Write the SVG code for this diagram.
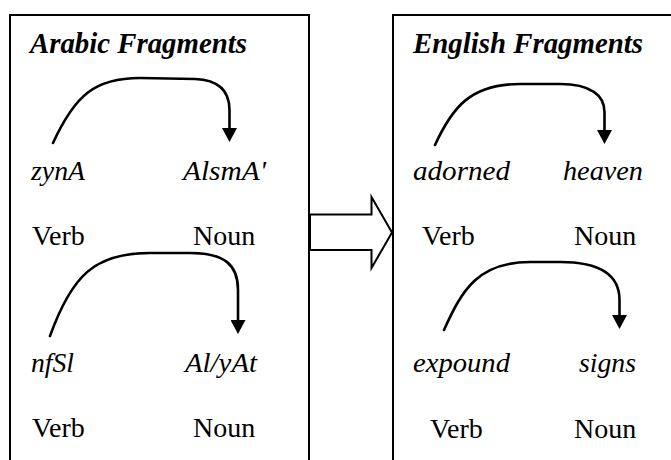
<svg xmlns="http://www.w3.org/2000/svg" width="671" height="460" viewBox="0 0 671 460">
  <style>
    .panel { fill: #ffffff; stroke: #000000; stroke-width: 2; }
    .title { font-family: 'Times New Roman', 'Liberation Serif', serif; font-size: 29px; font-weight: bold; font-style: italic; fill: #000000; }
    .word { font-family: 'Times New Roman', 'Liberation Serif', serif; font-size: 28px; font-style: italic; fill: #000000; }
    .pos { font-family: 'Liberation Serif', 'Times New Roman', serif; font-size: 28px; fill: #000000; }
    .link { fill: none; stroke: #000000; stroke-width: 2.6; stroke-linecap: round; marker-end: url(#head); }
    .block { fill: #ffffff; stroke: #000000; stroke-width: 2; stroke-linejoin: miter; }
  </style>
  <defs>
    <marker id="head" viewBox="0 0 14 15" refX="0" refY="7.5" markerWidth="14" markerHeight="15" markerUnits="userSpaceOnUse" orient="auto">
      <path d="M0,0 L14,7.5 L0,15 Z" fill="#000000"/>
    </marker>
  </defs>

  <rect width="671" height="460" fill="#ffffff"/>

  <!-- Arabic side -->
  <g id="arabic-fragments">
    <rect class="panel" x="10" y="15" width="299" height="460"/>
    <text class="title" x="30" y="53" textLength="217" lengthAdjust="spacingAndGlyphs">Arabic Fragments</text>
    <text class="word" x="31" y="180" textLength="54" lengthAdjust="spacingAndGlyphs">zynA</text>
    <text class="word" x="183" y="180" textLength="83" lengthAdjust="spacingAndGlyphs">AlsmA'</text>
    <text class="word" x="31" y="372" textLength="43" lengthAdjust="spacingAndGlyphs">nfSl</text>
    <text class="word" x="185" y="372" textLength="72" lengthAdjust="spacingAndGlyphs">Al/yAt</text>
    <text class="pos" x="32" y="245">Verb</text>
    <text class="pos" x="193" y="245">Noun</text>
    <text class="pos" x="32" y="437">Verb</text>
    <text class="pos" x="193" y="437">Noun</text>
  </g>

  <!-- English side -->
  <g id="english-fragments">
    <rect class="panel" x="393" y="15" width="300" height="460"/>
    <text class="title" x="413" y="53" textLength="230" lengthAdjust="spacingAndGlyphs">English Fragments</text>
    <text class="word" x="413" y="180" textLength="97" lengthAdjust="spacingAndGlyphs">adorned</text>
    <text class="word" x="563" y="180" textLength="80" lengthAdjust="spacingAndGlyphs">heaven</text>
    <text class="word" x="413" y="372" textLength="97" lengthAdjust="spacingAndGlyphs">expound</text>
    <text class="word" x="579" y="372" textLength="57" lengthAdjust="spacingAndGlyphs">signs</text>
    <text class="pos" x="422" y="245">Verb</text>
    <text class="pos" x="574" y="245">Noun</text>
    <text class="pos" x="430" y="438">Verb</text>
    <text class="pos" x="574" y="438">Noun</text>
  </g>

  <!-- Dependency arcs and the translation arrow -->
  <g id="connectors">
    <path class="link" d="M53,143 C75,95 95,78 140,78 L195,79 C220,80 229.5,92 229.5,110 L229.5,128"/>
    <path class="link" d="M50,336 C72,275 95,253 150,253 L190,253 C225,253 238,265 238,290 L238,320"/>
    <path class="link" d="M435,145 C452,108 470,84 520,84 L560,84 C590,84 604.5,95 604.5,112 L604.5,130"/>
    <path class="link" d="M444,330 C462,290 478,262 530,262 L560,262 C600,262 619.5,275 619.5,300 L619.5,315"/>
    <polygon class="block" points="310,214.5 371.5,214.5 371.5,197 392,232.5 371.5,268 371.5,250 310,250"/>
  </g>
</svg>
